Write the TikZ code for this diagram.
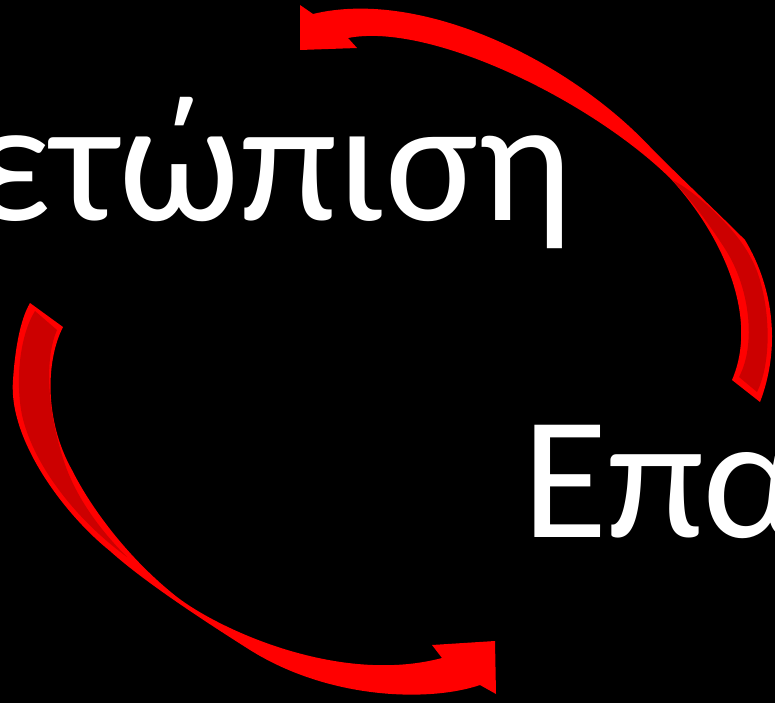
\documentclass[tikz,border=0pt]{standalone}
\usepackage{fontspec}
\setmainfont{Carlito}
\definecolor{arrowred}{RGB}{255,0,0}
\definecolor{backred}{RGB}{204,0,0}
\begin{document}
\begin{tikzpicture}[x=1pt,y=-1pt,
  word/.style={text=white,inner sep=0pt,outer sep=0pt,font=\fontsize{175}{210}\selectfont},
  ribbon/.style={fill=arrowred},
  backside/.style={fill=backred}]
\fill[black] (0,0) rectangle (775,703);
\useasboundingbox (0,0) rectangle (775,703);

% Arrow, top right
\fill[ribbon] (300,5) -- (300,50) -- (357,48) -- (348,38)
  .. controls (430,22) and (590,100) .. (670,178)
  .. controls (720,232) and (760,315) .. (732,380)
  -- (760,402)
  .. controls (780,350) and (775,290) .. (745,240)
  .. controls (715,210) and (685,182) .. (653,150)
  .. controls (570,60) and (420,-12) .. (313,14)
  -- cycle;
\fill[backside] (672,180)
  .. controls (690,188) and (735,225) .. (752,260)
  .. controls (768,290) and (775,355) .. (757,392)
  -- (739,377)
  .. controls (756,345) and (750,290) .. (727,252)
  .. controls (712,228) and (690,198) .. (672,180)
  -- cycle;

% Arrow, bottom left
\fill[ribbon] (432,645) -- (495,641) -- (496,694) -- (480,685)
  .. controls (430,702) and (330,700) .. (250,650)
  .. controls (190,612) and (140,578) .. (110,551)
  .. controls (65,515) and (8,440) .. (13,380)
  .. controls (15,350) and (20,320) .. (30,303)
  -- (63,327)
  .. controls (46,360) and (44,420) .. (72,470)
  .. controls (92,510) and (130,560) .. (177,597)
  .. controls (220,630) and (340,685) .. (442,658)
  -- cycle;
\fill[backside] (35,311)
  .. controls (20,335) and (15,380) .. (22,415)
  .. controls (32,460) and (70,515) .. (127,557)
  .. controls (95,525) and (72,490) .. (62,455)
  .. controls (48,410) and (44,360) .. (57,330)
  -- cycle;

\node (treat) [word,anchor=base east] at (572,220) {ετώπιση};
\node (review) [word,anchor=base west] at (522,537) {Επα};
\end{tikzpicture}
\end{document}
